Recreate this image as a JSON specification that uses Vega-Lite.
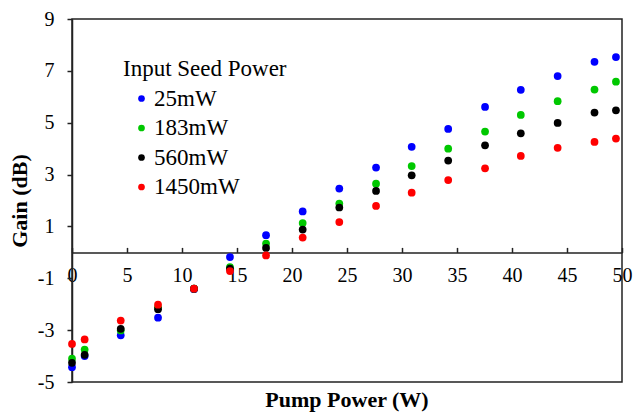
{
  "$schema": "https://vega.github.io/schema/vega-lite/v6.json",
  "width": 550,
  "height": 363,
  "autosize": {"type": "none"},
  "padding": {"left": 72, "top": 19, "right": 11, "bottom": 33},
  "background": "white",
  "title": {"text": "Pump Power (W)", "orient": "bottom", "font": "Liberation Serif", "fontSize": 22, "fontWeight": "bold", "color": "black", "offset": -2, "baseline": "top"},
  "config": {
    "view": {"stroke": "#222", "strokeWidth": 1.5},
    "font": "Liberation Serif"
  },
  "data": {"values": [
    {"p": 0, "s": "25mW", "g": -4.43}, {"p": 1.15, "s": "25mW", "g": -4.0}, {"p": 4.43, "s": "25mW", "g": -3.2}, {"p": 7.82, "s": "25mW", "g": -2.52}, {"p": 11.09, "s": "25mW", "g": -1.42}, {"p": 14.36, "s": "25mW", "g": -0.18}, {"p": 17.64, "s": "25mW", "g": 0.66}, {"p": 20.97, "s": "25mW", "g": 1.58}, {"p": 24.3, "s": "25mW", "g": 2.46}, {"p": 27.64, "s": "25mW", "g": 3.27}, {"p": 30.88, "s": "25mW", "g": 4.07}, {"p": 34.2, "s": "25mW", "g": 4.76}, {"p": 37.55, "s": "25mW", "g": 5.61}, {"p": 40.8, "s": "25mW", "g": 6.27}, {"p": 44.15, "s": "25mW", "g": 6.8}, {"p": 47.5, "s": "25mW", "g": 7.35}, {"p": 49.45, "s": "25mW", "g": 7.53},
    {"p": 0, "s": "183mW", "g": -4.1}, {"p": 1.15, "s": "183mW", "g": -3.75}, {"p": 4.43, "s": "183mW", "g": -3.01}, {"p": 7.82, "s": "183mW", "g": -2.12}, {"p": 11.09, "s": "183mW", "g": -1.4}, {"p": 14.36, "s": "183mW", "g": -0.57}, {"p": 17.64, "s": "183mW", "g": 0.34}, {"p": 20.97, "s": "183mW", "g": 1.13}, {"p": 24.3, "s": "183mW", "g": 1.88}, {"p": 27.64, "s": "183mW", "g": 2.65}, {"p": 30.88, "s": "183mW", "g": 3.33}, {"p": 34.2, "s": "183mW", "g": 4.0}, {"p": 37.55, "s": "183mW", "g": 4.66}, {"p": 40.8, "s": "183mW", "g": 5.3}, {"p": 44.15, "s": "183mW", "g": 5.83}, {"p": 47.5, "s": "183mW", "g": 6.28}, {"p": 49.45, "s": "183mW", "g": 6.58},
    {"p": 0, "s": "560mW", "g": -4.26}, {"p": 1.15, "s": "560mW", "g": -3.95}, {"p": 4.43, "s": "560mW", "g": -2.95}, {"p": 7.82, "s": "560mW", "g": -2.19}, {"p": 11.09, "s": "560mW", "g": -1.4}, {"p": 14.36, "s": "560mW", "g": -0.63}, {"p": 17.64, "s": "560mW", "g": 0.17}, {"p": 20.97, "s": "560mW", "g": 0.88}, {"p": 24.3, "s": "560mW", "g": 1.73}, {"p": 27.64, "s": "560mW", "g": 2.37}, {"p": 30.88, "s": "560mW", "g": 2.97}, {"p": 34.2, "s": "560mW", "g": 3.54}, {"p": 37.55, "s": "560mW", "g": 4.13}, {"p": 40.8, "s": "560mW", "g": 4.59}, {"p": 44.15, "s": "560mW", "g": 4.99}, {"p": 47.5, "s": "560mW", "g": 5.39}, {"p": 49.45, "s": "560mW", "g": 5.48},
    {"p": 0, "s": "1450mW", "g": -3.53}, {"p": 1.15, "s": "1450mW", "g": -3.36}, {"p": 4.43, "s": "1450mW", "g": -2.63}, {"p": 7.82, "s": "1450mW", "g": -2.02}, {"p": 11.09, "s": "1450mW", "g": -1.4}, {"p": 14.36, "s": "1450mW", "g": -0.72}, {"p": 17.64, "s": "1450mW", "g": -0.12}, {"p": 20.97, "s": "1450mW", "g": 0.57}, {"p": 24.3, "s": "1450mW", "g": 1.17}, {"p": 27.64, "s": "1450mW", "g": 1.79}, {"p": 30.88, "s": "1450mW", "g": 2.3}, {"p": 34.2, "s": "1450mW", "g": 2.79}, {"p": 37.55, "s": "1450mW", "g": 3.24}, {"p": 40.8, "s": "1450mW", "g": 3.72}, {"p": 44.15, "s": "1450mW", "g": 4.03}, {"p": 47.5, "s": "1450mW", "g": 4.26}, {"p": 49.45, "s": "1450mW", "g": 4.39}
  ]},
  "mark": {"type": "point", "filled": true, "opacity": 1, "size": 60, "shape": "circle"},
  "encoding": {
    "x": {
      "field": "p", "type": "quantitative",
      "scale": {"domain": [0, 50], "nice": false, "zero": false},
      "axis": {
        "title": null, "values": [0, 5, 10, 15, 20, 25, 30, 35, 40, 45, 50],
        "offset": -129.6, "grid": false,
        "domainColor": "#222", "domainWidth": 1.5,
        "tickColor": "#222", "tickWidth": 1.5, "tickSize": -5,
        "labelFont": "Liberation Serif", "labelFontSize": 20, "labelColor": "black",
        "labelPadding": 18, "labelFlush": false, "labelOverlap": false
      }
    },
    "y": {
      "field": "g", "type": "quantitative",
      "scale": {"domain": [-5, 9], "nice": false, "zero": false},
      "axis": {
        "title": "Gain (dB)", "values": [-5, -3, -1, 1, 3, 5, 7, 9],
        "grid": false,
        "domainColor": "#222", "domainWidth": 1.5,
        "tickColor": "#222", "tickWidth": 1.5, "tickSize": 5,
        "labelFont": "Liberation Serif", "labelFontSize": 20, "labelColor": "black",
        "labelPadding": 13, "labelExpr": "datum.value",
        "titleFont": "Liberation Serif", "titleFontSize": 22, "titleFontWeight": "bold", "titleColor": "black",
        "titlePadding": 6
      }
    },
    "color": {
      "field": "s", "type": "nominal", "sort": ["25mW", "183mW", "560mW", "1450mW"],
      "scale": {"domain": ["25mW", "183mW", "560mW", "1450mW"], "range": ["#0000FF", "#00C800", "#000000", "#FF0000"]},
      "legend": {
        "title": "Input Seed Power", "orient": "none", "legendX": 51, "legendY": 39,
        "titleFont": "Liberation Serif", "titleFontSize": 23, "titleFontWeight": "normal", "titleColor": "black",
        "labelFont": "Liberation Serif", "labelFontSize": 23, "labelColor": "black",
        "symbolType": "circle", "symbolSize": 45, "symbolStrokeWidth": 0, "symbolOffset": 7,
        "labelOffset": 1, "rowPadding": 5.5, "titlePadding": 6, "offset": 0, "padding": 0
      }
    }
  }
}
